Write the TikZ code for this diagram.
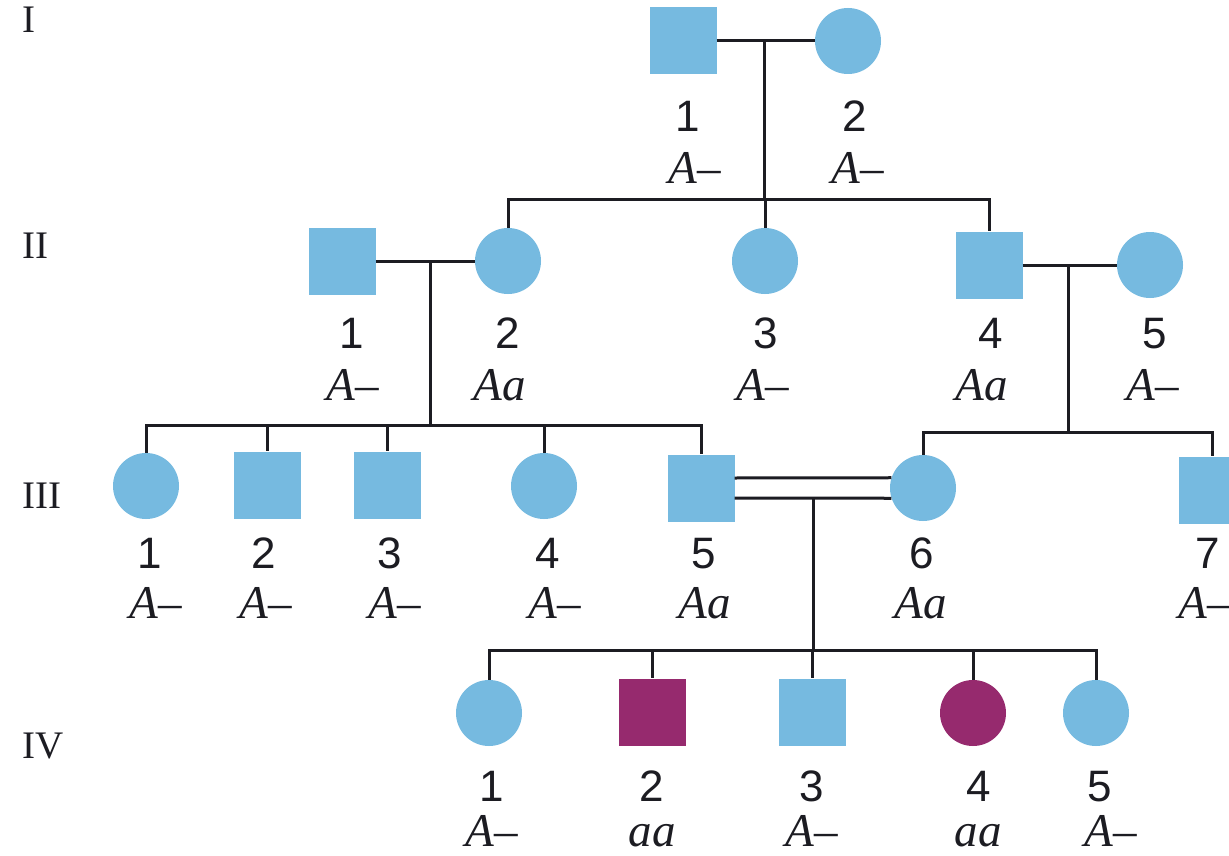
\documentclass[tikz,border=0pt]{standalone}
\usepackage{fontspec}
\setmainfont{Liberation Serif}
\newfontfamily\numfont{Liberation Sans}
\usetikzlibrary{calc}
\definecolor{pedblue}{RGB}{118,186,224}
\definecolor{pedpurple}{RGB}{150,42,110}
\definecolor{ink}{RGB}{28,28,34}
\begin{document}
\begin{tikzpicture}[x=1pt,y=-1pt,
  male/.style={rectangle,fill=pedblue,minimum size=67pt,inner sep=0pt},
  female/.style={circle,fill=pedblue,minimum size=66pt,inner sep=0pt},
  affected/.style={fill=pedpurple},
  num/.style={font=\numfont\fontsize{44}{48}\selectfont,text=ink,inner sep=0pt,anchor=base},
  geno/.style={font=\fontsize{47}{50}\selectfont\itshape,text=ink,inner sep=0pt,anchor=base},
  gen/.style={font=\fontsize{39}{44}\selectfont,text=ink,inner sep=0pt,anchor=base west},
  link/.style={draw=ink,line width=3pt},
]
\useasboundingbox (0,0) rectangle (1229,856);
\clip (0,0) rectangle (1229,856);
\fill[white] (0,0) rectangle (1229,856);

% generation labels
\node[gen] (gI)   at (22,33)  {I};
\node[gen] (gII)  at (22,258) {II};
\node[gen] (gIII) at (22,508) {III};
\node[gen] (gIV)  at (22,758) {IV};

% ---------- generation I ----------
\node[male]   (I1) at (683,41) {};
\node[female] (I2) at (848,41) {};
\coordinate (mI)  at (764,41);
\coordinate (sII) at (764,199);
\draw[link] (I1.east) -- (I2.west);
\draw[link] (mI) -- (sII);

% ---------- generation II ----------
\node[male]   (II1) at (342,261) {};
\node[female] (II2) at (508,261) {};
\node[female] (II3) at (765,261) {};
\node[male]   (II4) at (989,265) {};
\node[female] (II5) at (1150,265) {};
\draw[link] (II2.north) |- (II4.north |- sII) -- (II4.north);
\draw[link] (II3.north |- sII) -- (II3.north);
\draw[link] (II1.east) -- (II2.west);
\draw[link] (II4.east) -- (II5.west);
\coordinate (mIIa)  at (430,261);
\coordinate (sIIIa) at (430,425);
\coordinate (mIIb)  at (1068,265);
\coordinate (sIIIb) at (1068,432);
\draw[link] (mIIa) -- (sIIIa);
\draw[link] (mIIb) -- (sIIIb);

% ---------- generation III ----------
\node[female] (III1) at (146,486) {};
\node[male]   (III2) at (267,485) {};
\node[male]   (III3) at (387,485) {};
\node[female] (III4) at (544,486) {};
\node[male]   (III5) at (701,488) {};
\node[female] (III6) at (923,488) {};
\node[male]   (III7) at (1212,490) {};
\draw[link] (III1.north) |- (III5.north |- sIIIa) -- (III5.north);
\draw[link] (III2.north |- sIIIa) -- (III2.north);
\draw[link] (III3.north |- sIIIa) -- (III3.north);
\draw[link] (III4.north |- sIIIa) -- (III4.north);
\draw[link] (III6.north) |- (III7.north |- sIIIb) -- (III7.north);
% consanguineous double mating line
\draw[link] ($(III5.east)+(0,-10)$) -- (III6.162);
\draw[link] ($(III5.east)+(0,10)$) -- (III6.198);
\coordinate (mIII) at (813,498);
\coordinate (sIV)  at (813,650);
\draw[link] (mIII) -- (sIV);

% ---------- generation IV ----------
\node[female] (IV1) at (489,713) {};
\node[male,affected] (IV2) at (652,712) {};
\node[male]   (IV3) at (812,712) {};
\node[female,affected] (IV4) at (973,713) {};
\node[female] (IV5) at (1096,713) {};
\draw[link] (IV1.north) |- (IV5.north |- sIV) -- (IV5.north);
\draw[link] (IV2.north |- sIV) -- (IV2.north);
\draw[link] (IV3.north |- sIV) -- (IV3.north);
\draw[link] (IV4.north |- sIV) -- (IV4.north);

% ---------- labels ----------
\node[num]  (nI1) at (688,132) {1};
\node[num]  (nI2) at (855,132) {2};
\node[geno] (tI1) at (695,183) {A–};
\node[geno] (tI2) at (858,183) {A–};

\node[num]  (nII1) at (352,348) {1};
\node[num]  (nII2) at (508,348) {2};
\node[num]  (nII3) at (766,348) {3};
\node[num]  (nII4) at (991,348) {4};
\node[num]  (nII5) at (1155,348) {5};
\node[geno] (tII1) at (353,400) {A–};
\node[geno] (tII2) at (500,400) {Aa};
\node[geno] (tII3) at (763,400) {A–};
\node[geno] (tII4) at (982,400) {Aa};
\node[geno] (tII5) at (1153,400) {A–};

\node[num]  (nIII1) at (150,568) {1};
\node[num]  (nIII2) at (264,568) {2};
\node[num]  (nIII3) at (390,568) {3};
\node[num]  (nIII4) at (548,568) {4};
\node[num]  (nIII5) at (704,568) {5};
\node[num]  (nIII6) at (922,568) {6};
\node[num]  (nIII7) at (1208,568) {7};
\node[geno] (tIII1) at (156,618) {A–};
\node[geno] (tIII2) at (266,618) {A–};
\node[geno] (tIII3) at (395,618) {A–};
\node[geno] (tIII4) at (555,618) {A–};
\node[geno] (tIII5) at (705,618) {Aa};
\node[geno] (tIII6) at (921,618) {Aa};
\node[geno] (tIII7) at (1205,618) {A–};

\node[num]  (nIV1) at (492,801) {1};
\node[num]  (nIV2) at (652,801) {2};
\node[num]  (nIV3) at (812,801) {3};
\node[num]  (nIV4) at (979,801) {4};
\node[num]  (nIV5) at (1100,801) {5};
\node[geno] (tIV1) at (492,846) {A–};
\node[geno] (tIV2) at (652,846) {aa};
\node[geno] (tIV3) at (812,846) {A–};
\node[geno] (tIV4) at (978,846) {aa};
\node[geno] (tIV5) at (1111,846) {A–};
\end{tikzpicture}
\end{document}
